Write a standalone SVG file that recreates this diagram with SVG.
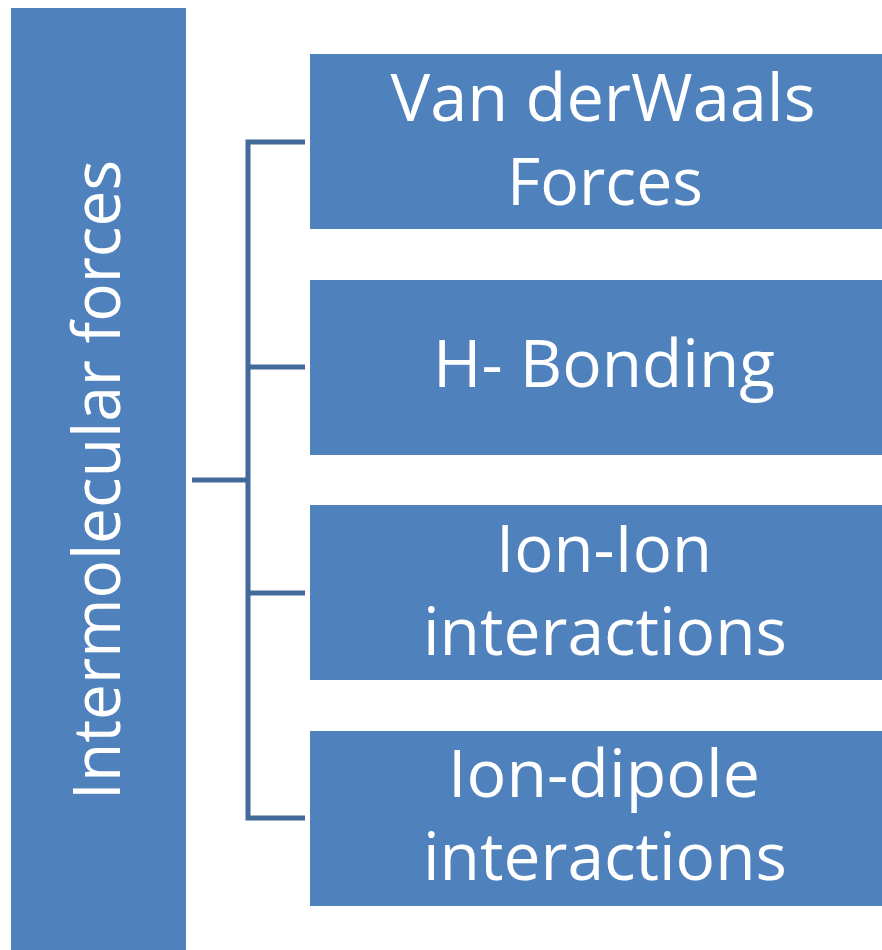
<svg xmlns="http://www.w3.org/2000/svg" width="882" height="950" viewBox="0 0 882 950">
<style>
.box{fill:#4f81bd;}
.t{fill:#ffffff;font-family:"Open Sans","Noto Sans","DejaVu Sans",sans-serif;font-size:66px;text-anchor:middle;}
.c{fill:none;stroke:#41699a;stroke-width:5;}
</style>
<rect width="882" height="950" fill="#ffffff"/>
<g id="connectors">
<path class="c" d="M192 480 H248"/>
<path class="c" d="M305 142 H248 V818 H305"/>
<path class="c" d="M248 367 H305"/>
<path class="c" d="M248 593 H305"/>
</g>
<g id="root">
<rect class="box" x="11" y="8" width="175" height="950"/>
<text class="t" transform="translate(120,480) rotate(-90)" x="0" y="0" textLength="640" lengthAdjust="spacingAndGlyphs">Intermolecular forces</text>
</g>
<g id="vdw">
<rect class="box" x="310" y="54" width="590" height="175"/>
<text class="t" x="603" y="121" textLength="425" lengthAdjust="spacingAndGlyphs">Van derWaals</text>
<text class="t" x="605" y="205" textLength="196" lengthAdjust="spacingAndGlyphs">Forces</text>
</g>
<g id="hbond">
<rect class="box" x="310" y="280" width="590" height="175"/>
<text class="t" x="604" y="387" textLength="342" lengthAdjust="spacingAndGlyphs">H- Bonding</text>
</g>
<g id="ionion">
<rect class="box" x="310" y="505" width="590" height="175"/>
<text class="t" x="604" y="572" textLength="216" lengthAdjust="spacingAndGlyphs">Ion-Ion</text>
<text class="t" x="605" y="655" textLength="364" lengthAdjust="spacingAndGlyphs">interactions</text>
</g>
<g id="iondipole">
<rect class="box" x="310" y="731" width="590" height="175"/>
<text class="t" x="604" y="797" textLength="312" lengthAdjust="spacingAndGlyphs">Ion-dipole</text>
<text class="t" x="605" y="880" textLength="364" lengthAdjust="spacingAndGlyphs">interactions</text>
</g>
</svg>
